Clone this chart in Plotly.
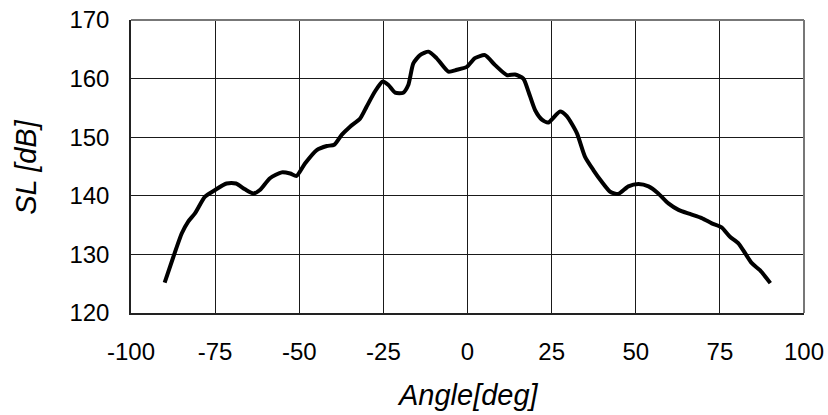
import plotly.graph_objects as go

angle = [-90, -87.4, -84.9, -83.0, -81.0, -78.0, -75.0, -71.6, -68.8, -66.1, -63.6, -61.7,
         -58.7, -55.2, -52.7, -50.8, -48.3, -44.8, -41.8, -39.6, -37.4, -34.9, -31.9, -30.0,
         -27.5, -25.2, -23.5, -21.5, -19.1, -17.6, -16.1, -14.1, -11.6, -9.2, -5.7, -3.2,
         -0.2, 2.2, 5.2, 8.2, 11.7, 14.1, 16.6, 18.1, 20.1, 22.1, 24.0, 27.5, 29.5,
         32.5, 34.9, 37.4, 39.9, 42.4, 44.8, 47.8, 50.8, 53.8, 56.7, 59.7, 62.7, 66.1,
         69.6, 72.6, 75.5, 78.0, 80.5, 82.5, 84.5, 86.9, 90]
sl = [125.2, 129.6, 133.6, 135.6, 137.0, 139.85, 141.0, 142.1, 142.1, 141.1, 140.4, 141.0,
      143.0, 144.0, 143.8, 143.4, 145.5, 147.8, 148.5, 148.7, 150.4, 151.8, 153.2, 155.2,
      157.8, 159.5, 158.9, 157.6, 157.6, 158.9, 162.6, 164.0, 164.6, 163.5, 161.2, 161.5,
      162.0, 163.5, 164.0, 162.3, 160.6, 160.7, 160.0, 157.8, 154.6, 153.0, 152.5, 154.4, 153.6,
      150.7, 146.7, 144.4, 142.4, 140.7, 140.3, 141.6, 142.0, 141.6, 140.4, 138.7, 137.6, 136.9,
      136.2, 135.3, 134.6, 133.0, 131.9, 130.2, 128.5, 127.3, 125.1]

x_ticks = [-100, -75, -50, -25, 0, 25, 50, 75, 100]
y_ticks = [120, 130, 140, 150, 160, 170]

FONT = "Liberation Sans, Arial, sans-serif"

fig = go.Figure()
fig.add_trace(go.Scatter(x=angle, y=sl, mode="lines",
                         line=dict(color="black", width=4, shape="spline", smoothing=0.6),
                         showlegend=False, hoverinfo="skip"))

fig.update_layout(
    width=828, height=415,
    margin=dict(l=131, r=24, t=20, b=102),
    paper_bgcolor="white", plot_bgcolor="white",
    font=dict(family=FONT, color="black", size=24),
    xaxis=dict(range=[-100, 100], tickvals=x_ticks, ticktext=[str(v) for v in x_ticks],
               showgrid=True, gridcolor="#1a1a1a", gridwidth=1.3, zeroline=False,
               showline=True, linecolor="#222", linewidth=2, ticks="", automargin=False,
               ticklabeloverflow="allow",
               ticklabelstandoff=16, tickfont=dict(size=24, family=FONT)),
    yaxis=dict(range=[120, 170], tickvals=y_ticks, ticktext=[str(v) for v in y_ticks],
               showgrid=True, gridcolor="#1a1a1a", gridwidth=1.3, zeroline=False,
               showline=True, linecolor="#222", linewidth=1.5, ticks="", automargin=False,
               ticklabeloverflow="allow",
               ticklabelstandoff=15, tickfont=dict(size=24, family=FONT)),
    shapes=[dict(type="line", xref="paper", yref="paper", x0=0, x1=1, y0=1, y1=1,
                 line=dict(color="#777", width=2)),
            dict(type="line", xref="paper", yref="paper", x0=1, x1=1, y0=0, y1=1,
                 line=dict(color="#777", width=2))],
    annotations=[
        dict(text="<i>Angle[deg]</i>", xref="paper", yref="paper", x=0.5, y=-0.28,
             xanchor="center", yanchor="middle", showarrow=False,
             font=dict(size=29, family=FONT)),
        dict(text="<i>SL [dB]</i>", xref="paper", yref="paper", x=-0.157, y=0.5,
             xanchor="center", yanchor="middle", showarrow=False, textangle=-90,
             font=dict(size=29, family=FONT)),
    ],
)

fig.write_html("out.html", config={"displayModeBar": False},
               post_script="document.body.style.margin='0';document.body.style.padding='0';")
